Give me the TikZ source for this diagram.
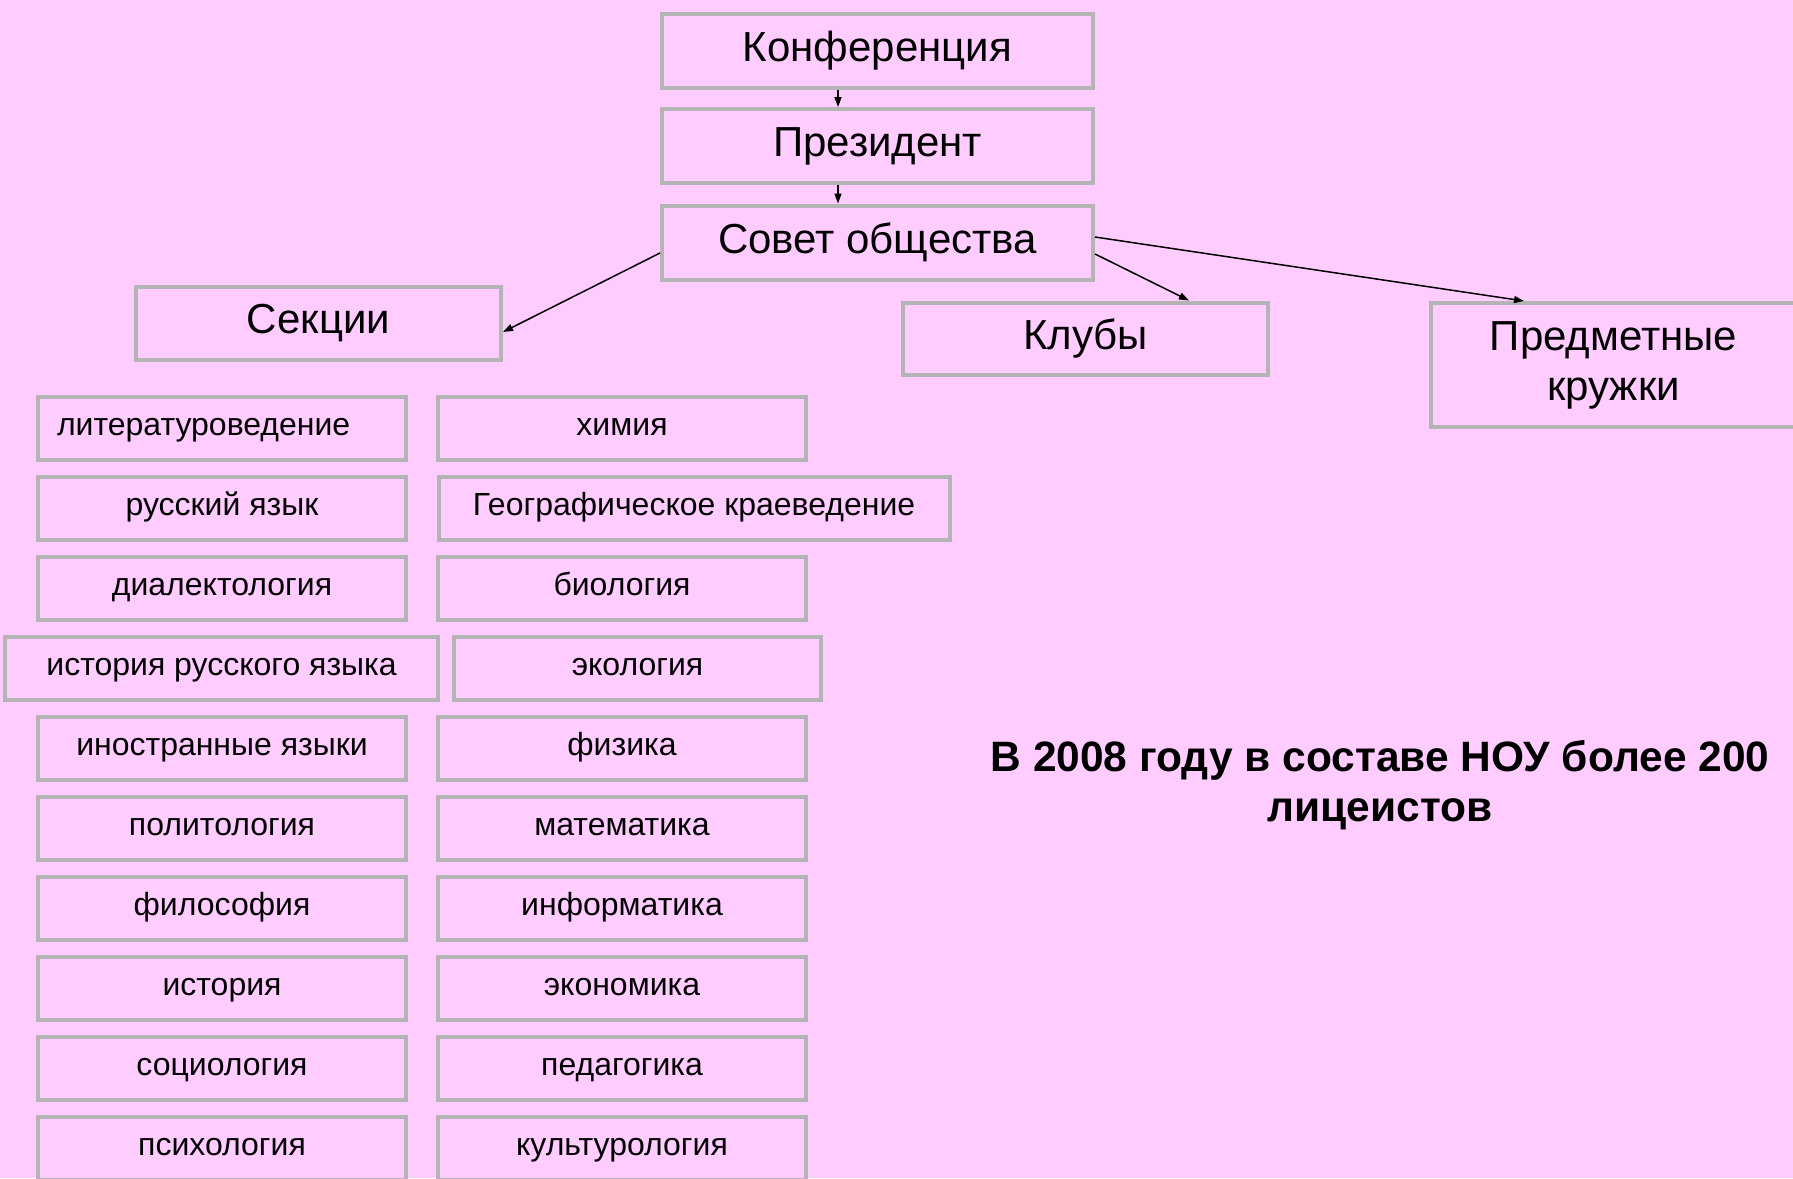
\documentclass[tikz,border=0pt]{standalone}
\usepackage{fontspec}
\setmainfont{Liberation Sans}
\usetikzlibrary{arrows.meta}
\definecolor{bgpink}{RGB}{255,204,255}
\definecolor{boxgray}{RGB}{180,180,180}
\begin{document}
\begin{tikzpicture}[x=1pt,y=-1pt,
  box/.style={draw=boxgray, line width=4pt, fill=bgpink, inner sep=0pt, align=center},
  bigbox/.style={box, font=\fontsize{42}{50}\selectfont},
  smallbox/.style={box, font=\fontsize{32}{38}\selectfont, text height=22pt, text depth=8pt, minimum height=63pt, minimum width=368pt},
  arr/.style={line width=1.5pt, -{Triangle[length=10pt,width=7pt]}}]
\fill[bgpink] (0,0) rectangle (1793,1178);
\useasboundingbox (0,0) rectangle (1793,1178);

\node[bigbox, minimum width=431pt, minimum height=74pt] (konf) at (877.5,51) {Конференция};
\node[bigbox, minimum width=431pt, minimum height=74pt] (pres) at (877.5,146) {Президент};
\node[bigbox, minimum width=431pt, minimum height=74pt] (sovet) at (877.5,242.5) {Совет общества};
\node[bigbox, minimum width=365pt, minimum height=73pt] (sekcii) at (318.5,323) {Секции};
\node[bigbox, minimum width=365pt, minimum height=72pt] (klub) at (1085.5,338.5) {Клубы};
\node[bigbox, minimum width=365pt, minimum height=124pt] (pred) at (1613.5,365) {Предметные\\кружки};

% left column
\node[smallbox, text width=330pt, align=left, inner xsep=19pt] (l1) at (222,428.5) {литературоведение};
\node[smallbox] (l2) at (222,508.5) {русский язык};
\node[smallbox] (l3) at (222,588.5) {диалектология};
\node[smallbox, minimum width=433pt] (l4) at (221.5,668.5) {история русского языка};
\node[smallbox] (l5) at (222,748.5) {иностранные языки};
\node[smallbox] (l6) at (222,828.5) {политология};
\node[smallbox] (l7) at (222,908.5) {философия};
\node[smallbox] (l8) at (222,988.5) {история};
\node[smallbox] (l9) at (222,1068.5) {социология};
\node[smallbox] (l10) at (222,1148.5) {психология};

% right column
\node[smallbox] (r1) at (622,428.5) {химия};
\node[smallbox, minimum width=511pt] (r2) at (694,508.5) {Географическое краеведение};
\node[smallbox] (r3) at (622,588.5) {биология};
\node[smallbox, minimum width=367pt] (r4) at (637.5,668.5) {экология};
\node[smallbox] (r5) at (622,748.5) {физика};
\node[smallbox] (r6) at (622,828.5) {математика};
\node[smallbox] (r7) at (622,908.5) {информатика};
\node[smallbox] (r8) at (622,988.5) {экономика};
\node[smallbox] (r9) at (622,1068.5) {педагогика};
\node[smallbox] (r10) at (622,1148.5) {культурология};

\node[font=\bfseries\fontsize{42.5}{50}\selectfont, align=center] (note) at (1380,785.5) {В 2008 году в составе НОУ более 200\\лицеистов};

\draw[arr] ([xshift=-39.5pt]konf.south) -- ([xshift=-39.5pt]pres.north);
\draw[arr] ([xshift=-39.5pt]pres.south) -- ([xshift=-39.5pt]sovet.north);
\draw[arr] ([yshift=-10.5pt]sovet.west) -- ([yshift=-9pt]sekcii.east);
\draw[arr] ([yshift=-11.5pt]sovet.east) -- ([xshift=103.5pt]klub.north);
\draw[arr] ([yshift=5.5pt]sovet.east) -- ([xshift=-89.5pt]pred.north);
\end{tikzpicture}
\end{document}
